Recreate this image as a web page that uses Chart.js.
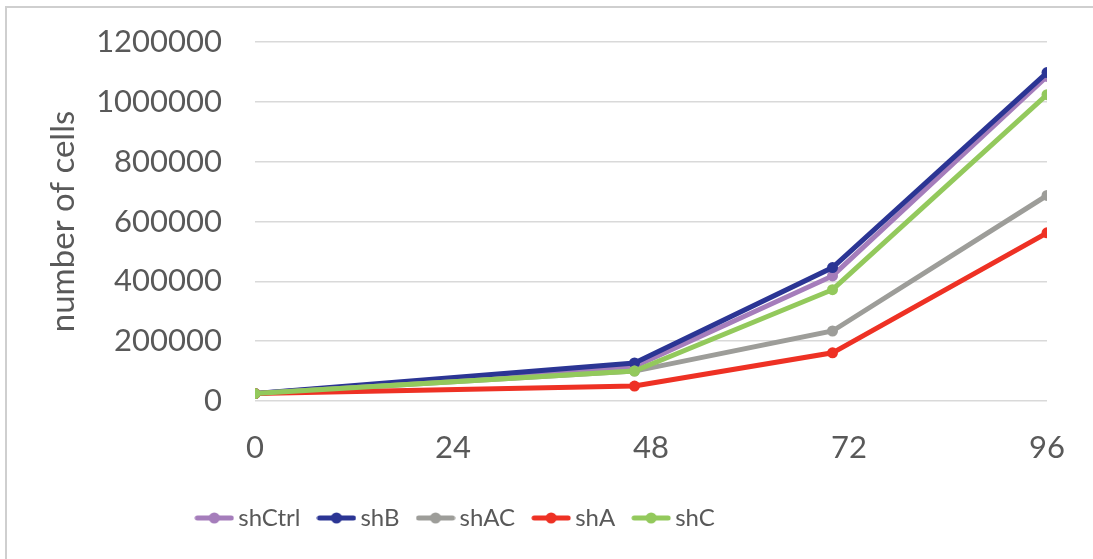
<!DOCTYPE html>
<html>
<head>
<meta charset="utf-8">
<script src="https://cdn.jsdelivr.net/npm/chart.js@4.4.1/dist/chart.umd.min.js"></script>
<style>
  html, body { margin: 0; padding: 0; background: #fff; }
  #wrap { width: 1093px; height: 559px; position: relative; }
</style>
</head>
<body>
<div id="wrap"><canvas id="growthChart"></canvas></div>
<script>
// hours after seeding
const hours = [0, 46, 70, 96];
const xTicks = [0, 24, 48, 72, 96];

// cell counts per construct
const shCtrl = [25000, 115000, 418000, 1085000];
const shB = [25000, 127000, 446000, 1098000];
const shAC = [25000, 100000, 234000, 687000];
const shA = [25000, 50000, 161000, 562000];
const shC = [25000, 100000, 372000, 1024000];

const seriesNames = ['shCtrl', 'shB', 'shAC', 'shA', 'shC'];
const seriesValues = [shCtrl, shB, shAC, shA, shC];
const seriesColors = ['#a57dbb', '#2b3594', '#9d9d99', '#ee3124', '#93c95c'];

const textColor = '#595959';
const fontFamily = 'Lato, "Open Sans", sans-serif';

// small line+dot image for each legend entry
function legendSwatch(color) {
    const c = document.createElement('canvas');
    c.width = 40;
    c.height = 12;
    const g = c.getContext('2d');
    g.strokeStyle = color;
    g.lineWidth = 5;
    g.lineCap = 'round';
    g.beginPath();
    g.moveTo(3, 6);
    g.lineTo(37, 6);
    g.stroke();
    g.fillStyle = color;
    g.beginPath();
    g.arc(20, 6, 5.5, 0, Math.PI * 2);
    g.fill();
    return c;
}

const datasets = seriesNames.map(function(name, i) {
    return {
        label: name,
        data: hours.map(function(h, j) { return {x: h, y: seriesValues[i][j]}; }),
        borderColor: seriesColors[i],
        backgroundColor: seriesColors[i],
        borderWidth: 5,
        pointRadius: 5.5,
        pointHoverRadius: 5.5,
        pointBorderWidth: 0,
        tension: 0,
        order: seriesNames.length - i // later series drawn on top, like the original
    };
});

const frame = {
    id: 'frame',
    beforeDraw(chart) {
        const ctx = chart.ctx;
        ctx.save();
        ctx.strokeStyle = '#cfcfcf';
        ctx.lineWidth = 2;
        ctx.beginPath();
        ctx.moveTo(6, chart.height);
        ctx.lineTo(6, 7);
        ctx.lineTo(chart.width, 7);
        ctx.stroke();
        ctx.restore();
    }
};

// the original legend sits left of centre
const legendShift = {
    id: 'legendShift',
    afterLayout(chart) {
        chart.legend.left -= 68;
        chart.legend.right -= 68;
    }
};

new Chart(document.getElementById('growthChart'), {
    type: 'line',
    data: { datasets: datasets },
    options: {
        responsive: true,
        maintainAspectRatio: false,
        animation: false,
        layout: { padding: { top: 42, right: 40, bottom: 19, left: 0 } },
        plugins: {
            tooltip: { enabled: false },
            legend: {
                position: 'bottom',
                labels: {
                    usePointStyle: true,
                    pointStyleWidth: 24,
                    padding: 24,
                    color: textColor,
                    font: { family: fontFamily, size: 24 },
                    generateLabels: function(chart) {
                        return chart.data.datasets.map(function(ds, i) {
                            return {
                                text: ds.label,
                                pointStyle: legendSwatch(ds.borderColor),
                                fillStyle: ds.borderColor,
                                strokeStyle: ds.borderColor,
                                lineWidth: 0,
                                fontColor: textColor,
                                hidden: false,
                                datasetIndex: i
                            };
                        });
                    }
                }
            }
        },
        scales: {
            x: {
                type: 'linear',
                min: 0,
                max: 96,
                afterBuildTicks: function(scale) {
                    scale.ticks = xTicks.map(function(v) { return {value: v}; });
                },
                afterFit: function(scale) { scale.height = 81; },
                grid: { display: false, drawTicks: false },
                border: { display: false },
                ticks: {
                    padding: 28,
                    color: textColor,
                    font: { family: fontFamily, size: 31 }
                }
            },
            y: {
                min: 0,
                max: 1200000,
                afterFit: function(scale) { scale.width = 255; },
                grid: { color: '#d9d9d9', lineWidth: 1.5, drawTicks: true, tickLength: 26, tickColor: 'rgba(0,0,0,0)' },
                border: { display: false },
                ticks: {
                    stepSize: 200000,
                    padding: 7,
                    color: textColor,
                    font: { family: fontFamily, size: 31 },
                    callback: function(v) { return String(v); }
                },
                title: {
                    display: true,
                    text: 'number of cells',
                    color: textColor,
                    font: { family: fontFamily, size: 33 },
                    padding: { top: 44, bottom: 0 }
                }
            }
        }
    },
    plugins: [frame, legendShift]
});
</script>
</body>
</html>
